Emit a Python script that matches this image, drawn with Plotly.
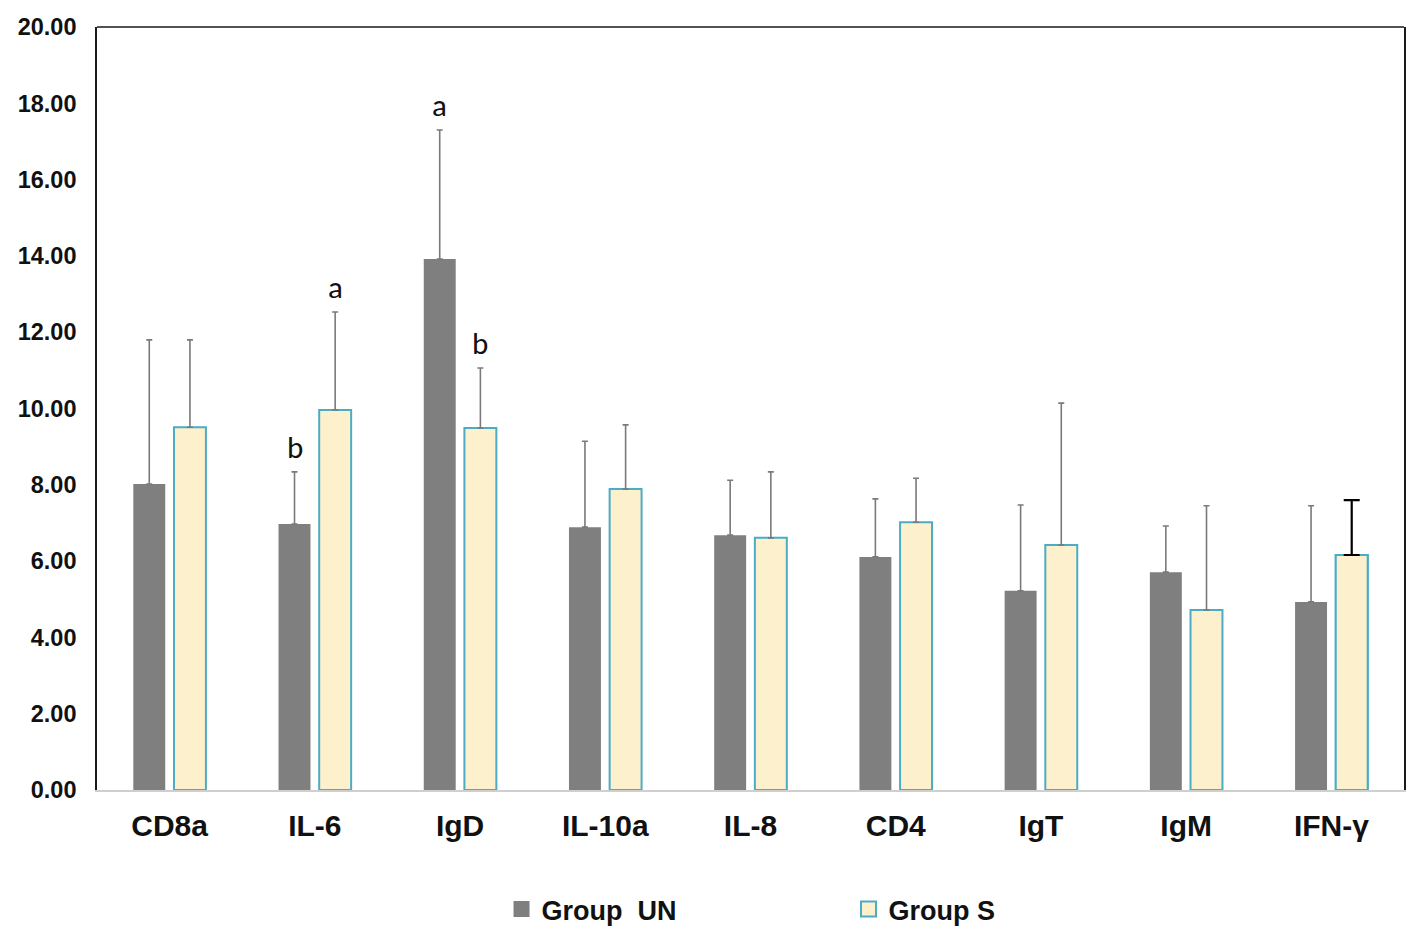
import plotly.graph_objects as go

categories = ["CD8a", "IL-6", "IgD", "IL-10a", "IL-8", "CD4", "IgT", "IgM", "IFN-γ"]
un_values = [8.02, 6.97, 13.92, 6.89, 6.68, 6.11, 5.22, 5.71, 4.93]
un_errors = [3.78, 1.37, 3.38, 2.25, 1.44, 1.52, 2.25, 1.21, 2.52]
s_values = [9.51, 9.96, 9.49, 7.89, 6.61, 7.02, 6.42, 4.72, 6.16]
s_errors = [2.29, 2.57, 1.57, 1.68, 1.73, 1.15, 3.72, 2.73, 1.44]
# significance letters: (category, group, letter)
letters = [("IL-6", "UN", "b"), ("IL-6", "S", "a"), ("IgD", "UN", "a"), ("IgD", "S", "b")]

FONT = "Arial, Liberation Sans, sans-serif"
UN_COLOR = "#7f7f7f"
S_FILL = "#fdf0cc"
S_LINE = "#4bacc6"
ERR_COLOR = "#7a7a7a"

W = 0.22
UN_OFF = -0.25
S_OFF = 0.03
special = "IFN-γ"

fig = go.Figure()
fig.add_trace(go.Bar(
    x=categories, y=un_values, name="Group  UN", showlegend=False,
    offset=UN_OFF, width=W,
    marker=dict(color=UN_COLOR, line=dict(width=0)),
    error_y=dict(type="data", array=un_errors, symmetric=False, arrayminus=[0]*len(un_errors),
                 color=ERR_COLOR, thickness=1.6, width=3),
))
s_err_main = [None if c == special else e for c, e in zip(categories, s_errors)]
fig.add_trace(go.Bar(
    x=categories, y=s_values, name="Group S", showlegend=False,
    offset=S_OFF, width=W,
    marker=dict(color=S_FILL, line=dict(color=S_LINE, width=2)),
    error_y=dict(type="data", array=s_err_main, symmetric=False, arrayminus=[0]*len(s_errors),
                 color=ERR_COLOR, thickness=1.6, width=3),
))
# special black error bar for IFN-γ Group S
sp_vals = [v if c == special else None for c, v in zip(categories, s_values)]
sp_err = [e if c == special else None for c, e in zip(categories, s_errors)]
fig.add_trace(go.Bar(
    x=categories, y=sp_vals, showlegend=False,
    offset=S_OFF, width=W,
    marker=dict(color=S_FILL, line=dict(color=S_LINE, width=2)),
    error_y=dict(type="data", array=sp_err, symmetric=False, arrayminus=[0]*len(sp_err),
                 color="#000000", thickness=2.2, width=8),
    hoverinfo="skip",
))
# legend entries (larger square symbols)
fig.add_trace(go.Scatter(x=[None], y=[None], mode="markers", name="Group  UN",
                         marker=dict(symbol="square", size=16, color=UN_COLOR, line=dict(width=0))))
fig.add_trace(go.Scatter(x=[None], y=[None], mode="markers", name="Group S",
                         marker=dict(symbol="square", size=15, color=S_FILL, line=dict(color=S_LINE, width=2))))

annotations = []
for cat, grp, letter in letters:
    i = categories.index(cat)
    if grp == "UN":
        top = un_values[i] + un_errors[i]
        xc = i + UN_OFF + W / 2
    else:
        top = s_values[i] + s_errors[i]
        xc = i + S_OFF + W / 2
    annotations.append(dict(x=xc, y=top, xref="x", yref="y", text=letter, showarrow=False,
                            yanchor="bottom", yshift=4,
                            font=dict(family="Calibri, Carlito, Open Sans, sans-serif", size=31, color="#111111")))

fig.update_layout(
    width=1410, height=936,
    paper_bgcolor="white", plot_bgcolor="white",
    margin=dict(l=89, r=14, t=19, b=154, autoexpand=False),
    barmode="overlay",
    font=dict(family=FONT, color="#111111"),
    showlegend=True,
    legend=dict(orientation="h", x=0.575, xanchor="center", y=-0.1245, yanchor="top",
                font=dict(family=FONT, size=27, color="#111111", weight="bold"),
                entrywidth=302, itemsizing="trace", bgcolor="rgba(0,0,0,0)"),
    annotations=annotations,
    shapes=[dict(type="line", xref="paper", yref="paper", x0=0, x1=1, y0=1, y1=1,
                 line=dict(color="#1a1a1a", width=1.6))],
)
fig.update_xaxes(
    type="category", range=[-0.5, len(categories) - 0.5], automargin=False,
    showline=True, linecolor="#cfcfcf", linewidth=1.6,
    showgrid=False, ticks="", ticklabelstandoff=8,
    tickfont=dict(family=FONT, size=30, color="#111111", weight="bold"),
)
fig.update_yaxes(
    range=[0, 20], dtick=2, tickformat=".2f", automargin=False,
    showline=True, mirror=True, linecolor="#1a1a1a", linewidth=1.6,
    showgrid=False, zeroline=False, ticks="", ticklabelstandoff=14,
    tickfont=dict(family=FONT, size=23.5, color="#111111", weight="bold"),
)

fig.write_html("out.html")
